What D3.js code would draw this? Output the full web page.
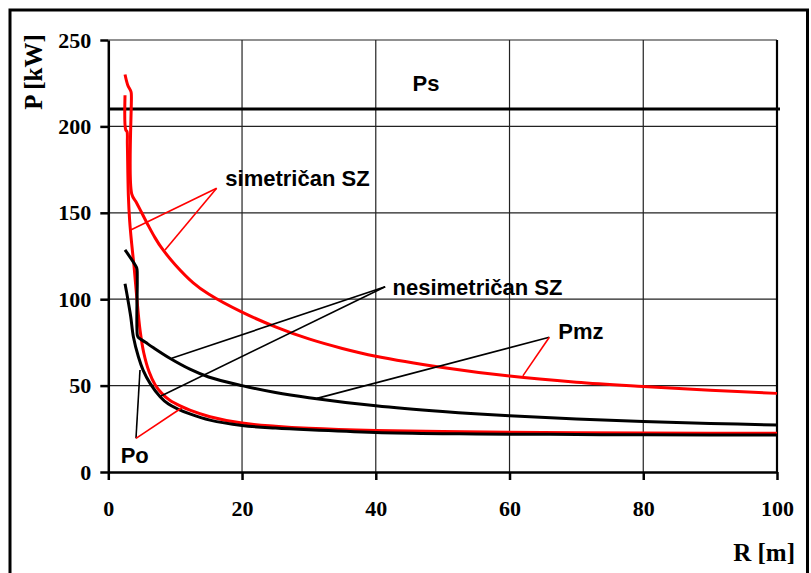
<!DOCTYPE html>
<html><head><meta charset="utf-8">
<script src="https://cdn.jsdelivr.net/npm/d3@7"></script>
<style>body{margin:0;background:#fff}svg{display:block}</style>
</head><body>
<svg id="c" width="811" height="573"></svg>
<script>
// ---- data ----
const xTicks = [0, 20, 40, 60, 80, 100];
const yTicks = [0, 50, 100, 150, 200, 250];
const Ps = 210;
// simetričan SZ (red)
const redPmzX = [2.5, 2.9, 3.4, 3.45, 3.5, 4.2, 5, 6, 7, 8, 10, 12.7, 15, 20, 25, 30, 35, 40, 50, 60, 70, 80, 90, 100];
const redPmzY = [230, 224, 220, 218, 161, 156, 150, 142.5, 135.5, 129.5, 120, 109.5, 103, 92.5, 84, 77, 71.5, 67, 60.5, 55.5, 52, 49.5, 47.3, 45.5];
const redPoX = [2.5, 2.6, 2.8, 2.85, 3.0, 3.2, 3.5, 3.85, 4.25, 4.75, 5.3, 6.1, 7.0, 8.0, 9.2, 11, 12.2, 15.2, 20, 25, 30, 40, 50, 60, 70, 80, 90, 100];
const redPoY = [218, 198, 197, 190, 160, 145, 132, 119, 101.5, 82, 69, 58, 50.5, 45.5, 41.5, 37.8, 35.8, 32, 28.3, 26.5, 25.3, 24, 23.4, 23, 22.7, 22.5, 22.4, 22.4];
// nesimetričan SZ (black)
const blackPmzX = [2.5, 4.2, 4.3, 4.33, 4.35, 4.5, 5.5, 6.7, 9.2, 12.2, 15, 20, 25, 30, 40, 50, 60, 70, 80, 90, 100];
const blackPmzY = [128.5, 118.5, 117, 110, 79, 77.8, 75.2, 72, 65.8, 59.5, 55, 50, 46, 43, 38.3, 35, 32.5, 30.7, 29.2, 28.1, 27.2];
const blackPoX = [2.5, 2.85, 3.35, 3.75, 4.5, 5.2, 6.25, 7.75, 9.0, 10.5, 12.2, 15.2, 20, 25, 30, 40, 50, 60, 70, 80, 90, 100];
const blackPoY = [109, 101.5, 90, 78.3, 66.7, 59, 51.3, 43.6, 39.3, 36.3, 33.6, 30, 26.9, 25.4, 24.4, 22.9, 22.2, 21.9, 21.7, 21.5, 21.4, 21.4];
// annotation labels [text, x, y] and leader lines [x1,y1,x2,y2,colour]
const labels = [
  ["Ps", 45.5, 220.5],
  ["simetričan SZ", 17.5, 165.5],
  ["nesimetričan SZ", 42.5, 102.4],
  ["Pmz", 67.3, 76.8],
  ["Po", 1.85, 5]
];
const leaders = [
  [16.2, 164.2, 3.35, 140, "red"],
  [16.2, 164.2, 8.48, 128.5, "red"],
  [41.4, 107.2, 9.48, 65.8, "black"],
  [41.4, 107.2, 7.73, 43.7, "black"],
  [65.95, 78, 31.2, 42.6, "black"],
  [65.95, 78, 62, 55.6, "red"],
  [4.14, 19.5, 4.74, 59, "black"],
  [4.14, 19.5, 11.0, 37.2, "red"]
];

// ---- chart ----
const svg = d3.select("#c");
const L = 108.3, R = 777, T = 40, B = 472;
const x = d3.scaleLinear().domain([0, 100]).range([L, R]);
const y = d3.scaleLinear().domain([0, 250]).range([B, T]);

// outer frame
svg.append("rect").attr("x", 10).attr("y", 10).attr("width", 797.5).attr("height", 620)
  .attr("fill", "none").attr("stroke", "#000").attr("stroke-width", 3);

// grid
const g = svg.append("g");
g.selectAll(".gx").data(xTicks.filter(d => d > 0 && d < 100)).join("line")
  .attr("x1", d => x(d)).attr("x2", d => x(d)).attr("y1", T).attr("y2", B)
  .attr("stroke", "#222").attr("stroke-width", 1.2);
g.selectAll(".gy").data(yTicks.filter(d => d > 0)).join("line")
  .attr("x1", L).attr("x2", R).attr("y1", d => y(d)).attr("y2", d => y(d))
  .attr("stroke", "#222").attr("stroke-width", 1.2);
// right frame
g.append("line").attr("x1", R).attr("x2", R).attr("y1", T).attr("y2", B)
  .attr("stroke", "#000").attr("stroke-width", 2.2);

// Ps line
svg.append("line").attr("x1", L).attr("x2", R + 3).attr("y1", y(Ps)).attr("y2", y(Ps))
  .attr("stroke", "#000").attr("stroke-width", 3);

// axes
const tickFont = "'Liberation Serif','Times New Roman',serif";
const xAxis = svg.append("g").attr("transform", `translate(0,${B})`)
  .call(d3.axisBottom(x).tickValues(xTicks).tickSize(8).tickSizeOuter(0).tickPadding(20));
const yAxis = svg.append("g").attr("transform", `translate(${L},0)`)
  .call(d3.axisLeft(y).tickValues(yTicks).tickSize(8).tickSizeOuter(0).tickPadding(9));
[xAxis, yAxis].forEach(a => {
  a.select(".domain").attr("stroke", "#000").attr("stroke-width", 2.5);
  a.selectAll(".tick line").attr("stroke", "#000").attr("stroke-width", 2.5);
  a.selectAll(".tick text").attr("fill", "#000").style("font-family", tickFont)
    .style("font-weight", "bold").style("font-size", "22px");
});
xAxis.selectAll(".tick text").attr("dy", "0.71em");

// axis titles
svg.append("text").attr("x", 795).attr("y", 561).attr("text-anchor", "end")
  .style("font-family", tickFont).style("font-weight", "bold").style("font-size", "25px").text("R [m]");
svg.append("text").attr("transform", "translate(42,72) rotate(-90)").attr("text-anchor", "middle")
  .style("font-family", tickFont).style("font-weight", "bold").style("font-size", "25px").text("P [kW]");

// curves
const line = d3.line().x(d => x(d[0])).y(d => y(d[1])).curve(d3.curveCatmullRom.alpha(0.5));
const series = [
  [redPmzX, redPmzY, "red"],
  [redPoX, redPoY, "red"],
  [blackPmzX, blackPmzY, "#000"],
  [blackPoX, blackPoY, "#000"]
];
series.forEach(([xs, ys, c]) => {
  svg.append("path").datum(xs.map((v, i) => [v, ys[i]])).attr("d", line)
    .attr("fill", "none").attr("stroke", c).attr("stroke-width", 3).attr("stroke-linejoin", "round");
});

// leader lines
svg.selectAll(".ld").data(leaders).join("line")
  .attr("x1", d => x(d[0])).attr("y1", d => y(d[1])).attr("x2", d => x(d[2])).attr("y2", d => y(d[3]))
  .attr("stroke", d => d[4] === "red" ? "red" : "#000").attr("stroke-width", 1.6);

// labels
svg.selectAll(".lb").data(labels).join("text")
  .attr("x", d => x(d[1])).attr("y", d => y(d[2]))
  .style("font-family", "'Liberation Sans',Arial,sans-serif").style("font-weight", "bold").style("font-size", "22px")
  .text(d => d[0]);
</script>
</body></html>
